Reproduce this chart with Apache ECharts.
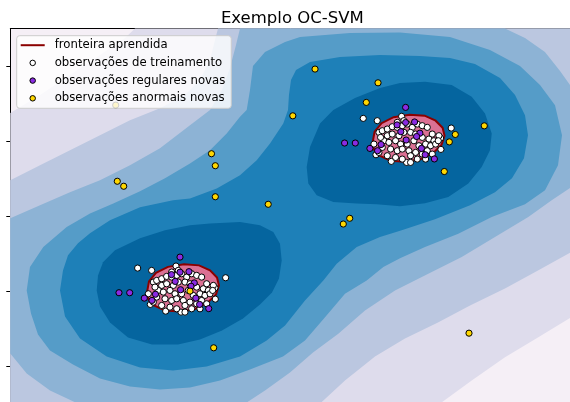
<!DOCTYPE html>
<html>
<head>
<meta charset="utf-8">
<script src="https://cdn.jsdelivr.net/npm/echarts@6/dist/echarts.min.js"></script>
<style>
html,body{margin:0;padding:0;background:#fff;}
#chart{width:570px;height:402px;}
</style>
</head>
<body>
<div id="chart"></div>
<script>
// ---- axis ticks ----
const yTicks = [-4, -2, 0, 2, 4];

// ---- decision-function bands (PuBu), boundaries ----
const bandColors = ['#f5eff6', '#dedcec', '#bbc7e0', '#8db3d5', '#559cc8', '#1e80b8', '#05659f'];
const band1 = [[-5,2.742],[-4.473,3.222],[-3.942,3.756],[-3.410,4.290],[-2.966,4.744],[-2.789,5],[5,5],[5,-2.651],[4.362,-3.230],[3.771,-3.764],[3.181,-4.386],[2.619,-5],[-5,-5]];
const band2 = [[-5,0.953],[-4.473,1.353],[-3.942,1.754],[-3.410,2.154],[-2.878,2.555],[-2.346,2.875],[-1.903,3.222],[-1.637,3.623],[-1.459,4.156],[-1.371,4.690],[-1.317,5],[5,5],[5,-0.916],[4.356,-1.450],[3.771,-1.930],[3.151,-2.384],[2.583,-2.838],[1.998,-3.265],[1.466,-3.745],[0.934,-4.386],[0.491,-5],[-5,-5]];
const band3 = [[-5,-0.061],[-4.473,0.286],[-3.942,0.633],[-3.410,0.953],[-2.878,1.353],[-2.346,1.807],[-1.814,2.421],[-1.459,2.822],[-1.246,3.356],[-1.105,3.943],[-0.998,4.557],[-0.927,5],[3.771,5],[4.126,4.744],[4.480,4.370],[4.747,3.863],[5,3.329],[5,0.820],[4.599,0.419],[4.184,-0.027],[3.594,-0.561],[3.004,-1.095],[2.411,-1.538],[1.821,-1.984],[1.289,-2.517],[0.816,-3.139],[0.367,-3.639],[-0.041,-4.173],[-0.484,-4.653],[-0.839,-5],[-3.800,-5],[-4.296,-4.653],[-4.709,-4.199],[-5,-3.665]];
const band4 = [[-4.709,-1.984],[-4.651,-1.362],[-4.415,-0.828],[-4.000,-0.294],[-3.587,0.064],[-3.174,0.331],[-2.700,0.659],[-2.257,1.006],[-1.814,1.399],[-1.459,1.754],[-1.163,2.200],[-0.927,2.643],[-0.809,2.822],[-0.750,3.356],[-0.697,3.996],[-0.484,4.370],[-0.129,4.637],[0.137,4.770],[1.023,4.877],[1.910,4.891],[2.796,4.770],[3.505,4.423],[4.037,3.996],[4.392,3.489],[4.658,2.955],[4.782,2.154],[4.711,1.353],[4.481,0.686],[4.126,0.312],[3.536,-0.027],[2.943,-0.470],[2.353,-0.828],[1.910,-1.129],[1.614,-1.362],[1.319,-1.717],[0.934,-2.072],[0.580,-2.696],[0.225,-3.318],[-0.165,-3.745],[-0.750,-4.092],[-1.282,-4.386],[-1.814,-4.573],[-2.346,-4.626],[-2.878,-4.546],[-3.410,-4.333],[-3.888,-3.959],[-4.296,-3.585],[-4.509,-3.158],[-4.633,-2.598]];
const band5 = [[-4.119,-1.984],[-4.066,-1.450],[-3.977,-1.049],[-3.800,-0.729],[-3.587,-0.462],[-3.232,-0.115],[-2.700,0.232],[-2.115,0.419],[-1.814,0.465],[-1.340,0.731],[-0.927,1.087],[-0.631,1.487],[-0.395,1.933],[-0.160,2.467],[-0.076,2.822],[-0.059,3.222],[-0.023,3.623],[0.066,3.889],[0.314,4.103],[0.846,4.237],[1.555,4.290],[2.264,4.263],[2.796,4.210],[3.239,4.050],[3.683,3.676],[3.949,3.222],[4.126,2.688],[4.179,2.154],[4.108,1.540],[3.895,1.006],[3.594,0.633],[3.151,0.286],[2.530,-0.088],[1.940,-0.382],[1.555,-0.561],[1.142,-0.828],[0.787,-1.271],[0.550,-1.717],[0.225,-2.250],[-0.129,-2.918],[-0.454,-3.318],[-0.927,-3.745],[-1.518,-4.012],[-2.115,-4.119],[-2.700,-4.039],[-3.291,-3.745],[-3.764,-3.265],[-4.030,-2.678]];
const band6Left = [[-3.468,-1.984],[-3.445,-1.583],[-3.356,-1.236],[-3.144,-0.916],[-2.700,-0.595],[-2.257,-0.382],[-1.814,-0.248],[-1.459,-0.203],[-0.927,-0.160],[-0.573,-0.248],[-0.337,-0.427],[-0.218,-0.737],[-0.188,-1.183],[-0.236,-1.663],[-0.360,-2.037],[-0.573,-2.357],[-0.874,-2.731],[-1.246,-3.051],[-1.637,-3.292],[-2.027,-3.425],[-2.488,-3.425],[-2.913,-3.238],[-3.232,-2.838],[-3.410,-2.411]];
const band6Right = [[2.353,3.577],[2.826,3.489],[3.181,3.177],[3.417,2.734],[3.536,2.200],[3.505,1.754],[3.358,1.308],[3.121,0.865],[2.766,0.507],[2.353,0.339],[1.910,0.259],[1.497,0.312],[1.142,0.331],[0.727,0.374],[0.433,0.553],[0.284,0.865],[0.255,1.308],[0.314,1.842],[0.491,2.467],[0.727,2.822],[1.112,3.142],[1.555,3.409],[1.910,3.542]];

// ---- learned frontier (decision function = 0) ----
const frontierLeft = [[-2.576,-2.037],[-2.541,-1.743],[-2.417,-1.516],[-2.204,-1.356],[-1.920,-1.289],[-1.654,-1.316],[-1.459,-1.450],[-1.335,-1.637],[-1.300,-1.850],[-1.353,-2.090],[-1.495,-2.304],[-1.725,-2.477],[-1.991,-2.544],[-2.257,-2.517],[-2.452,-2.384],[-2.550,-2.224]];
const frontierRight = [[1.424,1.953],[1.459,2.247],[1.583,2.474],[1.796,2.634],[2.080,2.701],[2.346,2.674],[2.541,2.540],[2.665,2.353],[2.700,2.140],[2.647,1.900],[2.505,1.686],[2.275,1.513],[2.009,1.446],[1.743,1.473],[1.548,1.606],[1.450,1.766]];

// ---- observations ----
const trainingObs = [
[-2.742,-1.388],[-2.494,-1.450],[-2.062,-1.334],[-1.182,-1.646],[-1.365,-2.215],[-2.517,-2.357],[-2.245,-2.535],[-1.974,-2.562],[-1.371,-1.913],
[-2.464,-1.761],[-2.405,-1.717],[-2.316,-1.672],[-2.228,-1.610],[-2.139,-1.628],[-2.050,-1.583],[-1.962,-1.539],[-1.873,-1.628],[-1.784,-1.539],[-1.696,-1.583],[-1.607,-1.628],
[-2.316,-1.850],[-2.228,-1.806],[-2.109,-1.850],[-2.021,-1.761],[-1.903,-1.761],[-1.814,-1.806],[-1.696,-1.895],[-1.578,-1.939],[-1.489,-1.984],[-2.375,-1.984],
[-2.287,-2.028],[-2.169,-1.984],[-2.080,-2.073],[-1.962,-2.073],[-1.844,-1.984],[-1.755,-2.117],[-1.637,-2.073],[-1.548,-2.117],[-1.459,-2.073],[-2.257,-2.206],
[-2.139,-2.251],[-2.050,-2.206],[-1.932,-2.251],[-1.814,-2.295],[-1.696,-2.340],[-1.607,-2.251],[-2.316,-2.384],[-2.169,-2.429],[-2.050,-2.473],[-1.903,-2.384],
[-1.784,-2.473],[-2.021,-1.450],[-2.139,-1.494],[-2.405,-2.162],[-2.464,-2.295],[-1.518,-1.806],[-1.400,-1.850],[-1.412,-1.984],[-2.435,-1.895],[-2.553,-2.073],
[-1.518,-2.340],[-1.637,-2.473],[-1.903,-2.562],
[1.258,2.602],[1.506,2.540],[1.938,2.656],[2.818,2.344],[2.635,1.775],[1.483,1.633],[1.755,1.455],[2.026,1.428],[2.629,2.077],
[1.536,2.229],[1.595,2.273],[1.684,2.318],[1.772,2.380],[1.861,2.362],[1.950,2.407],[2.038,2.451],[2.127,2.362],[2.216,2.451],[2.304,2.407],[2.393,2.362],
[1.684,2.140],[1.772,2.184],[1.891,2.140],[1.979,2.229],[2.097,2.229],[2.186,2.184],[2.304,2.095],[2.422,2.051],[2.511,2.006],[1.625,2.006],
[1.713,1.962],[1.831,2.006],[1.920,1.917],[2.038,1.917],[2.156,2.006],[2.245,1.873],[2.363,1.917],[2.452,1.873],[2.541,1.917],[1.743,1.784],
[1.861,1.739],[1.950,1.784],[2.068,1.739],[2.186,1.695],[2.304,1.650],[2.393,1.739],[1.684,1.606],[1.831,1.561],[1.950,1.517],[2.097,1.606],
[2.216,1.517],[1.979,2.540],[1.861,2.496],[1.595,1.828],[1.536,1.695],[2.482,2.184],[2.600,2.140],[2.588,2.006],[1.565,2.095],[1.447,1.917],
[2.482,1.650],[2.363,1.517],[2.097,1.428]
];
const regularObs = [
[-1.991,-1.095],[-3.073,-2.045],[-2.883,-2.045],[-2.142,-1.562],[-1.991,-1.498],[-1.832,-1.484],[-2.076,-1.743],[-1.738,-1.783],
[-1.981,-1.965],[-1.796,-1.871],[-2.426,-2.085],[-2.624,-2.189],[-2.488,-2.250],[-1.711,-2.189],[-1.644,-2.357],[-1.481,-2.469],
[2.009,2.895],[0.927,1.945],[1.117,1.945],[1.858,2.428],[2.009,2.492],[2.168,2.506],[1.924,2.247],[2.262,2.207],
[2.019,2.025],[2.204,2.119],[1.574,1.905],[1.376,1.801],[1.512,1.740],[2.289,1.801],[2.356,1.633],[2.519,1.521]
];
const abnormalObs = [
[-3.131,2.955],[-3.103,0.926],[-2.989,0.793],[-1.433,1.660],[-1.365,1.340],[-1.365,0.513],[0.403,3.916],[1.520,3.550],[1.312,3.027],[0.009,2.670],
[3.404,2.403],[2.890,2.173],[2.784,1.975],[2.695,1.185],[-0.427,0.312],[1.018,-0.061],[0.904,-0.214],[-1.394,-3.513],[-1.814,-2.002],[3.133,-3.123]
];

const FONT = 'DejaVu Sans';

function polygonSeries(name, pts, fill, stroke) {
  return {
    type: 'custom',
    name: name,
    coordinateSystem: 'cartesian2d',
    silent: true,
    data: pts,
    encode: { x: 0, y: 1 },
    renderItem: function (params, api) {
      if (params.dataIndex !== 0) return null;
      const points = pts.map(function (p) { return api.coord(p); });
      return {
        type: 'polygon',
        shape: { points: points },
        style: stroke ? { fill: fill, stroke: stroke, lineWidth: 2 } : { fill: fill }
      };
    }
  };
}

const pointStyle = function (color) {
  return { color: color, borderColor: '#000000', borderWidth: 1, opacity: 1 };
};

const series = [
  polygonSeries('band1', band1, bandColors[1]),
  polygonSeries('band2', band2, bandColors[2]),
  polygonSeries('band3', band3, bandColors[3]),
  polygonSeries('band4', band4, bandColors[4]),
  polygonSeries('band5', band5, bandColors[5]),
  polygonSeries('band6a', band6Left, bandColors[6]),
  polygonSeries('band6b', band6Right, bandColors[6]),
  polygonSeries('fronteira aprendida', frontierLeft, '#db7093', '#8b0000'),
  polygonSeries('fronteira aprendida', frontierRight, '#db7093', '#8b0000'),
  { type: 'scatter', name: 'observações de treinamento', data: trainingObs, silent: true, symbolSize: 6.2, itemStyle: pointStyle('#ffffff') },
  { type: 'scatter', name: 'observações regulares novas', data: regularObs, silent: true, symbolSize: 6.2, itemStyle: pointStyle('#8a2be2') },
  { type: 'scatter', name: 'observações anormais novas', data: abnormalObs, silent: true, symbolSize: 6.2, itemStyle: pointStyle('#ffd700') }
];

const chart = echarts.init(document.getElementById('chart'), null, { renderer: 'canvas' });
chart.setOption({
  animation: false,
  backgroundColor: '#ffffff',
  title: {
    text: 'Exemplo OC-SVM',
    left: 292.3, top: 10, textAlign: 'center', padding: 0,
    textStyle: { fontFamily: FONT, fontSize: 16.5, fontWeight: 'normal', color: '#000000' }
  },
  grid: {
    left: 10.3, top: 28.4, right: -4.3, bottom: -1.6,
    show: true, backgroundColor: bandColors[0], borderWidth: 0,
    outerBoundsMode: 'none', containLabel: false
  },
  xAxis: {
    type: 'value', min: -5, max: 5, position: 'top',
    axisLine: { show: true, onZero: false, lineStyle: { color: '#000000', width: 1 } },
    axisTick: { show: false }, axisLabel: { show: false }, splitLine: { show: false }
  },
  yAxis: {
    type: 'value', min: -5, max: 5,
    axisLine: { show: true, onZero: false, lineStyle: { color: '#000000', width: 1 } },
    axisTick: { show: true, customValues: yTicks, length: 4, lineStyle: { color: '#000000', width: 1 } },
    axisLabel: { show: false }, splitLine: { show: false }
  },
  legend: {
    orient: 'vertical', left: 16.7, top: 35.7,
    padding: [2.5, 6, 3, 4],
    itemWidth: 24, itemHeight: 5.5, itemGap: 3.7,
    selectedMode: false,
    backgroundColor: 'rgba(255,255,255,0.8)',
    borderColor: '#cccccc', borderWidth: 1, borderRadius: 3,
    textStyle: { fontFamily: FONT, fontSize: 11.7, color: '#000000', lineHeight: 14, padding: [0, 0, 0, 5] },
    data: [
      { name: 'fronteira aprendida', icon: 'path://M0,0H24V2H0Z', itemStyle: { color: '#8b0000', borderWidth: 0 } },
      { name: 'observações de treinamento', icon: 'circle', itemStyle: { color: '#ffffff', borderColor: '#000000', borderWidth: 1 } },
      { name: 'observações regulares novas', icon: 'circle', itemStyle: { color: '#8a2be2', borderColor: '#000000', borderWidth: 1 } },
      { name: 'observações anormais novas', icon: 'circle', itemStyle: { color: '#ffd700', borderColor: '#000000', borderWidth: 1 } }
    ]
  },
  series: series
});
</script>
</body>
</html>
